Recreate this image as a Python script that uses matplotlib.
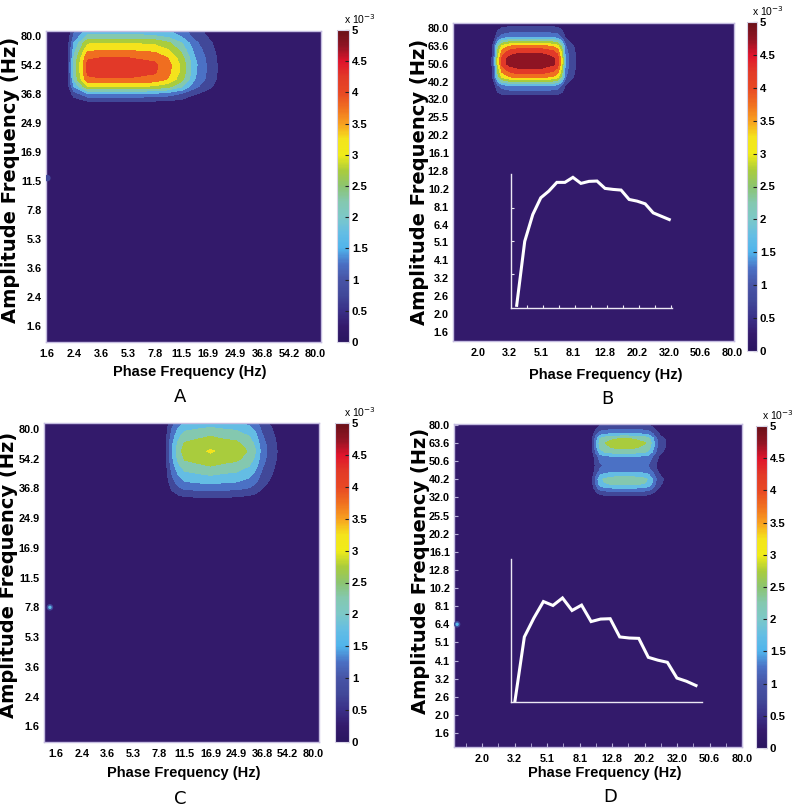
import numpy as np
import matplotlib
matplotlib.use('Agg')
import matplotlib.pyplot as plt
from matplotlib.colors import LinearSegmentedColormap, Normalize
from matplotlib.cm import ScalarMappable

W, H = 800, 810
NARROW = ['Liberation Sans Narrow', 'Liberation Sans', 'DejaVu Sans']

# ---- data (values in units of 1e-3) ----
lab11 = ['1.6', '2.4', '3.6', '5.3', '7.8', '11.5', '16.9', '24.9', '36.8', '54.2', '80.0']
lab18 = ['1.6', '2.0', '2.6', '3.2', '4.1', '5.1', '6.4', '8.1', '10.2', '12.8',
         '16.1', '20.2', '25.5', '32.0', '40.2', '50.6', '63.6', '80.0']
cb_labels = ['0', '0.5', '1', '1.5', '2', '2.5', '3', '3.5', '4', '4.5', '5']

# panel A: phase profile (x) and amplitude profile (y)
a_x = [-0.05, 0.5, 0.75, 1.0, 1.5, 2.0, 3.0, 4.0, 4.5, 5.0, 5.5, 6.0, 6.5, 7.0, 10.2]
a_xs = [0, 0, 0.07, 0.52, 0.98, 1, 1, 0.965, 0.87, 0.68, 0.38, 0.21, 0.07, 0, 0]
a_y = [-0.55, 7.5, 7.75, 8.0, 8.25, 8.5, 8.75, 9.0, 9.25, 9.5, 9.75, 10.0, 10.2]
a_ya = [0, 0, 0.5, 1.4, 3.0, 3.95, 4.2, 4.25, 4.0, 3.5, 3.0, 2.1, 1.75]

# panel B
b_x = [-0.57, 1.75, 2.0, 2.25, 2.5, 2.75, 3.0, 3.5, 5.0, 5.5, 5.75, 6.0, 6.25, 6.5, 6.75, 7.0, 7.25, 7.5, 17.1]
b_xs = [0, 0, 0.2, 0.61, 0.84, 0.91, 0.96, 1, 1, 0.96, 0.94, 0.88, 0.67, 0.29, 0.19, 0.14, 0.08, 0, 0]
b_y = [-0.52, 13.0, 13.25, 13.5, 13.75, 14.0, 14.25, 14.5, 14.75, 15.0, 15.25, 15.5, 15.75, 16.0,
       16.25, 16.5, 16.75, 17.0, 17.28]
b_ya = [0, 0, 0.5, 1.0, 1.4, 2.5, 3.6, 4.1, 4.5, 4.9, 4.9, 4.6, 4.2, 3.6, 2.5, 1.4, 1.0, 0.6, 0.3]

# panel C
c_x = [-0.48, 4.0, 4.25, 4.5, 4.75, 5.0, 5.5, 6.0, 6.5, 7.0, 7.5, 7.75, 8.0, 8.25, 8.5, 8.75, 9.0, 10.22]
c_xs = [0, 0, 0.13, 0.49, 0.75, 0.9, 0.95, 1.0, 0.95, 0.92, 0.8, 0.66, 0.43, 0.3, 0.2, 0.1, 0, 0]
c_y = [-0.53, 7.25, 7.5, 7.75, 8.0, 8.25, 8.5, 8.75, 9.0, 9.25, 9.5, 9.75, 10.0, 10.2]
c_ya = [0, 0, 0.2, 0.6, 1.2, 1.7, 2.1, 2.5, 2.85, 3.05, 2.85, 2.5, 2.1, 1.7]

# panel D
d_x = [-0.74, 7.5, 7.75, 8.0, 8.25, 8.5, 9.0, 9.5, 10.0, 10.5, 11.0, 11.25, 11.5, 11.75, 12.0, 12.25, 12.5, 12.75, 17.0]
d_xs = [0, 0, 0.15, 0.5, 0.8, 0.9, 0.97, 1, 1, 0.97, 0.92, 0.85, 0.65, 0.4, 0.25, 0.2, 0.05, 0, 0]
d_y = [-0.77, 12.75, 13.0, 13.25, 13.5, 13.75, 14.0, 14.25, 14.5, 14.75, 15.0, 15.25, 15.5, 15.75,
       16.0, 16.25, 16.5, 16.75, 17.05]
d_ya = [0, 0, 0.3, 0.8, 1.5, 2.15, 2.3, 1.8, 1.3, 1.15, 1.3, 1.5, 2.2, 2.6, 2.75, 2.5, 1.6, 1.0, 0.5]

# isolated small spots (x index, y index, value)
spots_a = ([0.0], [5.1], [0.8])
spots_c = ([-0.25], [4.0], [1.7])
spots_d = ([-0.55], [6.0], [1.6])

# inset curves
inset_b = [0.08, 1.99, 2.79, 3.29, 3.49, 3.75, 3.75, 3.90, 3.72, 3.78,
           3.79, 3.57, 3.54, 3.52, 3.24, 3.19, 3.11, 2.84, 2.74, 2.64]
inset_d = [0.0, 1.82, 2.35, 2.81, 2.70, 2.91, 2.56, 2.71, 2.25, 2.32,
           2.33, 1.82, 1.79, 1.78, 1.25, 1.17, 1.11, 0.67, 0.58, 0.46]

# ---- colormap ----
nodes = [(0.0, '#2a1560'), (0.25, '#341a6c'), (0.5, '#3a3088'), (0.75, '#414899'),
         (1.0, '#4754a6'), (1.25, '#4b70c4'), (1.5, '#50b4ec'), (1.75, '#64bde4'),
         (2.0, '#7cc8c8'), (2.25, '#84c8b0'), (2.5, '#8cc470'), (2.75, '#aacc3c'),
         (3.0, '#f0ec18'), (3.25, '#f4e41c'), (3.5, '#f8a020'), (3.75, '#f07020'),
         (4.0, '#e84824'), (4.25, '#e23a28'), (4.5, '#e0142c'), (4.75, '#901424'),
         (5.0, '#6a1018')]
cmap = LinearSegmentedColormap.from_list('pac', [(v / 5, c) for v, c in nodes])
levels = np.arange(0, 5.01, 0.5)


def rect(l, t, r, b):
    return [l / W, 1 - b / H, (r - l) / W, (b - t) / H]


def ftxt(x, y, s, **kw):
    fig.text(x / W, 1 - y / H, s, ha='center', va='center', **kw)


def panel(ax_box, cb_box, x, xs, y, ya, xlim, ylim, xt, xl, yt, yl, spots=None, ticks=False):
    norm = Normalize(0, 5)
    ax = fig.add_axes(rect(*ax_box))
    Z = np.outer(ya, xs)
    ax.contourf(x, y, Z, levels=levels, cmap=cmap, norm=norm)
    if spots is not None:
        ax.scatter(spots[0], spots[1], s=22, c=[cmap(norm(0.8))], edgecolors='none', zorder=3)
        ax.scatter(spots[0], spots[1], s=6, c=[cmap(norm(v)) for v in spots[2]], edgecolors='none', zorder=4)
    ax.set_xlim(*xlim)
    ax.set_ylim(*ylim)
    ax.set_xticks(xt)
    ax.set_xticklabels(xl, fontsize=7.8, fontweight='bold', family=NARROW)
    ax.set_yticks(yt)
    ax.set_yticklabels(yl, fontsize=7.8, fontweight='bold', family=NARROW)
    if ticks:
        ax.set_xticks(np.arange(0, 18), minor=True)
        ax.tick_params(which='both', direction='in', length=3, color='#b8b0d8')
    else:
        ax.tick_params(which='both', length=0)
    ax.tick_params(axis='x', pad=5)
    ax.tick_params(axis='y', pad=3)
    for s in ax.spines.values():
        s.set_color('#c4bce0')
        s.set_linewidth(1)

    cax = fig.add_axes(rect(*cb_box))
    cb = fig.colorbar(ScalarMappable(norm=Normalize(0, 5), cmap=cmap), cax=cax)
    cb.set_ticks(levels, labels=cb_labels)
    for t in cb.ax.get_yticklabels():
        t.set_fontsize(8.2)
        t.set_fontweight('bold')
        t.set_family(NARROW)
    cb.ax.tick_params(direction='in', length=3, width=0.8, color='#222222', pad=2)
    cb.outline.set_edgecolor('#d8d4e8')
    cb.outline.set_linewidth(0.8)
    ftxt(cb_box[2] + 11, cb_box[1] - 11, 'x 10$^{-3}$', fontsize=7.5, family=NARROW)
    return ax


def inset(box, vals, xlim, ticks):
    ax = fig.add_axes(rect(*box))
    ax.patch.set_alpha(0)
    ax.plot(np.arange(1, len(vals) + 1), vals, color='white', lw=2.2, solid_joinstyle='miter')
    ax.set_xlim(*xlim)
    ax.set_ylim(0, 4)
    for k in ['top', 'right']:
        ax.spines[k].set_visible(False)
    for k in ['left', 'bottom']:
        ax.spines[k].set_color('#ece8f4')
        ax.spines[k].set_linewidth(1)
    if ticks:
        ax.set_xticks(np.arange(2.25, 20.4, 2))
        ax.set_yticks([1, 2, 3])
        ax.tick_params(direction='in', length=2.5, width=0.8, color='#ece8f4')
    else:
        ax.set_xticks([])
        ax.set_yticks([])
    ax.set_xticklabels([])
    ax.set_yticklabels([])


fig = plt.figure(figsize=(8, 8.1), dpi=100)

i11 = list(range(11))
i18 = list(range(18))
odd = list(range(1, 18, 2))

panel((46, 31, 321, 342), (337, 30, 349, 342), a_x, a_xs, a_y, a_ya,
      (-0.05, 10.2), (-0.55, 10.17), i11, lab11, i11, lab11, spots=spots_a)
panel((453, 23, 734, 341), (747, 22, 757, 351), b_x, b_xs, b_y, b_ya,
      (-0.57, 17.1), (-0.52, 17.28), odd, [lab18[i] for i in odd], i18, lab18)
panel((44, 423, 319, 742), (335, 423, 349, 742), c_x, c_xs, c_y, c_ya,
      (-0.48, 10.22), (-0.53, 10.2), i11, lab11, i11, lab11, spots=spots_c)
panel((454, 424, 742, 747), (756, 426, 767, 748), d_x, d_xs, d_y, d_ya,
      (-0.74, 17.0), (-0.77, 17.05), odd, [lab18[i] for i in odd], i18, lab18,
      spots=spots_d, ticks=True)

inset((511, 174, 672, 308), inset_b, (0.29, 20.34), True)
inset((511, 559, 702, 702), inset_d, (0.6, 20.63), False)

ylab = 'Amplitude Frequency (Hz)'
xlab = 'Phase Frequency (Hz)'
for x, y in [(11, 180), (419, 182), (9, 575), (421, 571)]:
    ftxt(x, y, ylab, rotation=90, fontsize=14, fontweight='bold', family='DejaVu Sans')
for x, y in [(190, 372), (606, 375), (184, 773), (605, 773)]:
    ftxt(x, y, xlab, fontsize=10.5, fontweight='bold', family=NARROW)
for x, y, s in [(180, 397, 'A'), (607, 399, 'B'), (180, 799, 'C'), (610, 797, 'D')]:
    ftxt(x, y, s, fontsize=13, family='DejaVu Sans')

fig.savefig('out.png', dpi=100)
